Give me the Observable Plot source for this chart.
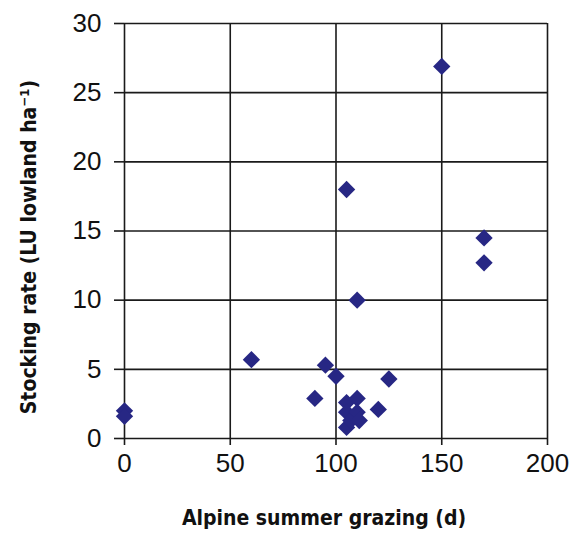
<!DOCTYPE html>
<html>
<head>
<meta charset="utf-8">
<script src="https://cdn.jsdelivr.net/npm/d3@7"></script>
<script src="https://cdn.jsdelivr.net/npm/@observablehq/plot@0.6"></script>
<style>
  html, body { margin: 0; padding: 0; background: #fff; }
  #chart svg { display: block; }
</style>
</head>
<body>
<div id="chart"></div>
<script>
const grazingDays = [0, 0, 60, 90, 95, 100, 105, 105, 105, 105, 107, 110, 110, 111, 110, 120, 125, 150, 170, 170];
const stockingRate = [2.0, 1.6, 5.7, 2.9, 5.3, 4.5, 18.0, 2.6, 1.9, 0.8, 1.3, 2.9, 1.9, 1.3, 10.0, 2.1, 4.3, 26.9, 14.5, 12.7];
const xTicks = [0, 50, 100, 150, 200];
const yTicks = [0, 5, 10, 15, 20, 25, 30];
const xLabel = "Alpine summer grazing (d)";
const yLabel = "Stocking rate (LU lowland ha\u207B\u00B9)";

const data = grazingDays.map((d, i) => ({x: d, y: stockingRate[i]}));

const chart = Plot.plot({
  width: 575,
  height: 538,
  marginLeft: 124,
  marginRight: 28,
  marginTop: 23,
  marginBottom: 100,
  style: {fontFamily: "'Liberation Sans', Arial, sans-serif", fontSize: "26px", color: "#111", background: "#fff"},
  x: {domain: [0, 200], ticks: xTicks, label: null},
  y: {domain: [0, 30], ticks: yTicks, label: null},
  marks: [
    Plot.gridX(xTicks, {stroke: "#1a1a1a", strokeOpacity: 1, strokeWidth: 1.6}),
    Plot.gridY(yTicks, {stroke: "#1a1a1a", strokeOpacity: 1, strokeWidth: 1.6}),
    Plot.axisX(xTicks, {tickSize: 7, tickPadding: 8, stroke: "#1a1a1a", strokeWidth: 1.6, fontSize: 26, label: null}),
    Plot.axisY(yTicks, {tickSize: 10, tickPadding: 13, stroke: "#1a1a1a", strokeWidth: 1.6, fontSize: 26, label: null}),
    Plot.dot(data, {x: "x", y: "y", symbol: "diamond2", r: 7.8, fill: "#272784", stroke: "none"}),
    Plot.text([xLabel], {frameAnchor: "bottom", dy: 86, dx: -12, text: d => d, fontFamily: "'Liberation Sans Narrow', 'DejaVu Sans Condensed', sans-serif", fontWeight: "bold", fontSize: 21, fill: "#111"}),
    Plot.text([yLabel], {frameAnchor: "left", textAnchor: "middle", dx: -95, dy: 16, rotate: -90, text: d => d, fontFamily: "'Liberation Sans Narrow', 'DejaVu Sans Condensed', sans-serif", fontWeight: "bold", fontSize: 21, fill: "#111"})
  ]
});
document.getElementById("chart").appendChild(chart);
</script>
</body>
</html>
